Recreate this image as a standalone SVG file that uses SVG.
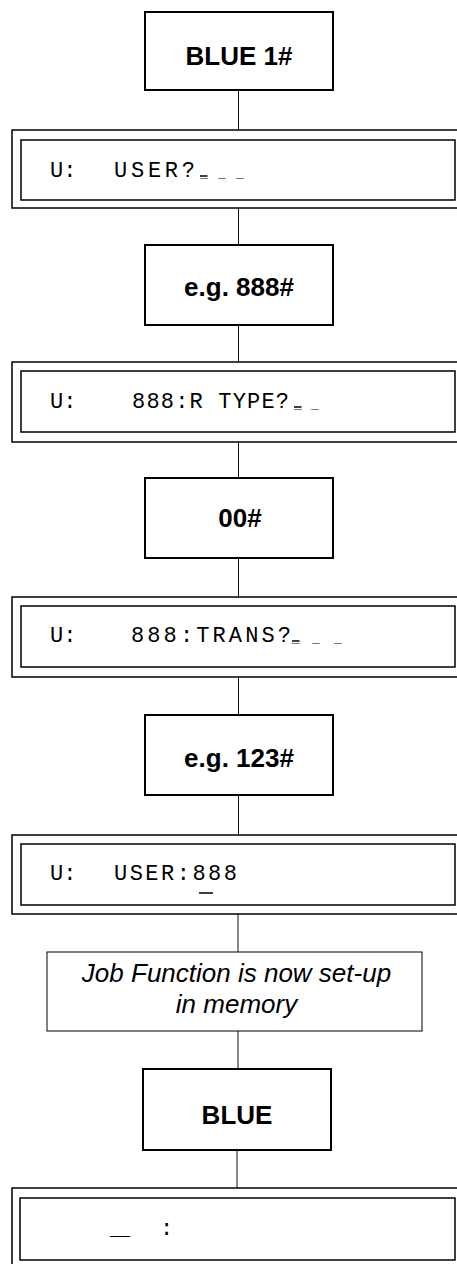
<svg xmlns="http://www.w3.org/2000/svg" width="457" height="1264" viewBox="0 0 457 1264">
<style>
.key{fill:#fff;stroke:#000;stroke-width:2}
.outer{fill:#fff;stroke:#000;stroke-width:1.5}
.inner{fill:none;stroke:#000;stroke-width:1.5}
.note{fill:#fff;stroke:#000;stroke-width:1}
.conn{stroke:#111;stroke-width:1;fill:none}
.kt{font-family:"Liberation Sans",Arial,sans-serif;font-weight:bold;font-size:26px;text-anchor:middle;fill:#000}
.dt{font-family:"Liberation Mono","Courier New",monospace;font-size:22px;fill:#000}
.ph{font-family:"Liberation Mono","Courier New",monospace;font-size:13px;fill:#000}
.cur{stroke:#000;stroke-width:1.5}
.nt{font-family:"Liberation Sans",Arial,sans-serif;font-style:italic;font-size:26px;text-anchor:middle;fill:#000}
</style>
<rect width="457" height="1264" fill="#fff"/>
<g id="connectors">
<line class="conn" x1="238.5" y1="90" x2="238.5" y2="130"/>
<line class="conn" x1="238.5" y1="208" x2="238.5" y2="245"/>
<line class="conn" x1="238.5" y1="325" x2="238.5" y2="362"/>
<line class="conn" x1="238.5" y1="442" x2="238.5" y2="478"/>
<line class="conn" x1="238.5" y1="558" x2="238.5" y2="597"/>
<line class="conn" x1="238.5" y1="677" x2="238.5" y2="715"/>
<line class="conn" x1="238.5" y1="795" x2="238.5" y2="835"/>
<line class="conn" x1="238" y1="914" x2="238" y2="952"/>
<line class="conn" x1="238" y1="1031" x2="238" y2="1069"/>
<line class="conn" x1="237" y1="1150" x2="237" y2="1188"/>
</g>
<g id="key1">
<rect class="key" x="145" y="12" width="188" height="78"/>
<text class="kt" x="239" y="65">BLUE 1#</text>
</g>
<g id="display1">
<rect class="outer" x="12" y="130" width="460" height="78"/>
<rect class="inner" x="21" y="140" width="434" height="60"/>
<text class="dt" x="50" y="177">U:</text>
<text class="dt" x="114" y="177" textLength="81" lengthAdjust="spacing">USER?</text>
<text class="ph" y="177"><tspan x="200">_</tspan><tspan x="218">_</tspan><tspan x="236">_</tspan></text>
<line class="cur" x1="200" y1="176" x2="207.5" y2="176"/>
</g>
<g id="key2">
<rect class="key" x="145" y="245" width="188" height="80"/>
<text class="kt" x="239" y="296">e.g. 888#</text>
</g>
<g id="display2">
<rect class="outer" x="12" y="362" width="460" height="80"/>
<rect class="inner" x="21" y="371" width="434" height="61"/>
<text class="dt" x="50" y="408">U:</text>
<text class="dt" x="132" y="408" textLength="157" lengthAdjust="spacing">888:R TYPE?</text>
<text class="ph" y="408"><tspan x="294">_</tspan><tspan x="311">_</tspan></text>
<line class="cur" x1="294" y1="407" x2="301.5" y2="407"/>
</g>
<g id="key3">
<rect class="key" x="145" y="478" width="188" height="80"/>
<text class="kt" x="240" y="527">00#</text>
</g>
<g id="display3">
<rect class="outer" x="12" y="597" width="460" height="80"/>
<rect class="inner" x="21" y="606" width="434" height="61"/>
<text class="dt" x="50" y="642">U:</text>
<text class="dt" x="131" y="642" textLength="160" lengthAdjust="spacing">888:TRANS?</text>
<text class="ph" y="642"><tspan x="292">_</tspan><tspan x="312">_</tspan><tspan x="334">_</tspan></text>
<line class="cur" x1="292" y1="641" x2="299.5" y2="641"/>
</g>
<g id="key4">
<rect class="key" x="145" y="715" width="188" height="80"/>
<text class="kt" x="239" y="767">e.g. 123#</text>
</g>
<g id="display4">
<rect class="outer" x="12" y="835" width="460" height="79"/>
<rect class="inner" x="21" y="844" width="434" height="61"/>
<text class="dt" x="50" y="880">U:</text>
<text class="dt" x="114" y="880" textLength="123" lengthAdjust="spacing">USER:888</text>
<line class="cur" x1="199" y1="893" x2="213" y2="893"/>
</g>
<g id="note">
<rect class="note" x="47" y="952" width="375" height="79"/>
<text class="nt" x="236.5" y="982">Job Function is now set-up</text>
<text class="nt" x="236.5" y="1013">in memory</text>
</g>
<g id="key5">
<rect class="key" x="143" y="1069" width="188" height="81"/>
<text class="kt" x="237" y="1124">BLUE</text>
</g>
<g id="display5">
<rect class="outer" x="12" y="1188" width="460" height="80"/>
<rect class="inner" x="20" y="1198" width="435" height="62"/>
<text class="dt" x="110" y="1235" textLength="20" lengthAdjust="spacingAndGlyphs">_</text>
<text class="dt" x="160" y="1235">:</text>
</g>
</svg>
